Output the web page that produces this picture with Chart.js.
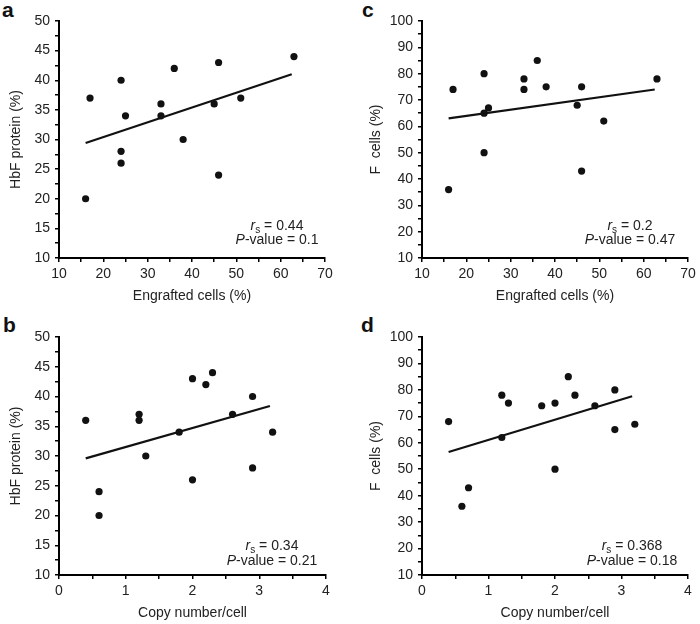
<!DOCTYPE html>
<html>
<head>
<meta charset="utf-8">
<script src="https://cdn.jsdelivr.net/npm/chart.js@4/dist/chart.umd.min.js"></script>
<style>
  html, body { margin: 0; padding: 0; background: #fff; }
  body { width: 700px; height: 624px; position: relative; overflow: hidden; font-family: "Liberation Sans", Arial, sans-serif; }
  .wrap { position: absolute; }
  .letter { position: absolute; font-family: "Liberation Sans", Arial, sans-serif; font-weight: bold; font-size: 21px; color: #111; line-height: 1; }
</style>
</head>
<body>
<div class="letter" style="left:2px; top:-1px;">a</div>
<div class="letter" style="left:362px; top:-1px;">c</div>
<div class="letter" style="left:3px; top:314px;">b</div>
<div class="letter" style="left:361px; top:314px;">d</div>

<div class="wrap" style="left:0px; top:0px; width:345px; height:307px;"><canvas id="ca"></canvas></div>
<div class="wrap" style="left:360px; top:0px; width:340px; height:307px;"><canvas id="cc"></canvas></div>
<div class="wrap" style="left:0px; top:316px; width:345px; height:308px;"><canvas id="cb"></canvas></div>
<div class="wrap" style="left:360px; top:316px; width:340px; height:308px;"><canvas id="cd"></canvas></div>

<script>
// ---- Data ----
// Panel a: HbF protein vs engrafted cells
const engraftedA = [16, 17, 24, 24, 24, 25, 33, 33, 36, 38, 45, 46, 46, 51, 63];
const hbfA       = [20, 37, 40, 28, 26, 34, 36, 34, 42, 30, 36, 43, 24, 37, 44];
const trendAx = [16, 62.5];
const trendAy = [29.4, 41.0];
const statsA = ["0.44", "0.1"];

// Panel c: F cells vs engrafted cells
const engraftedC = [16, 17, 24, 24, 24, 25, 33, 33, 36, 38, 45, 46, 46, 51, 63];
const fcellsC    = [36, 74, 80, 65, 50, 67, 78, 74, 85, 75, 68, 75, 43, 62, 78];
const trendCx = [16, 62.5];
const trendCy = [63.0, 74.0];
const statsC = ["0.2", "0.47"];

// Panel b: HbF protein vs copy number/cell
const copyB = [0.4, 0.6, 0.6, 1.2, 1.2, 1.3, 1.8, 2.0, 2.0, 2.2, 2.3, 2.6, 2.9, 2.9, 3.2];
const hbfB  = [36, 24, 20, 37, 36, 30, 34, 43, 26, 42, 44, 37, 40, 28, 34];
const trendBx = [0.4, 3.16];
const trendBy = [29.6, 38.4];
const statsB = ["0.34", "0.21"];

// Panel d: F cells vs copy number/cell
const copyD   = [0.4, 0.6, 0.7, 1.2, 1.2, 1.3, 1.8, 2.0, 2.0, 2.2, 2.3, 2.6, 2.9, 2.9, 3.2];
const fcellsD = [68, 36, 43, 78, 62, 75, 74, 75, 50, 85, 78, 74, 80, 65, 67];
const trendDx = [0.4, 3.16];
const trendDy = [56.5, 77.6];
const statsD = ["0.368", "0.18"];

// Axis settings (min, max, major step, minor step) and titles
const xEngrafted = [10, 70, 10, 5];
const xCopy = [0, 4, 1, 0.5];
const yHbf = [10, 50, 5, 2.5];
const yFcells = [10, 100, 10, 5];
const titleEngrafted = "Engrafted cells (%)";
const titleCopy = "Copy number/cell";
const titleHbf = "HbF protein (%)";
const titleFcells = "F  cells (%)";

// ---- Rendering ----
const FONT = "'Liberation Sans', Arial, Helvetica, sans-serif";
const TEXT = "#222";

function pts(xs, ys) { return xs.map((x, i) => ({ x: x, y: ys[i] })); }

const statsPlugin = {
  id: 'stats',
  afterDatasetsDraw(chart) {
    const o = chart.options.plugins.stats;
    if (!o) return;
    const ctx = chart.ctx;
    const ca = chart.chartArea;
    const cx = ca.right - o.centerFromRight;
    ctx.save();
    ctx.fillStyle = TEXT;
    ctx.textBaseline = 'middle';
    // line 1: r_s = value
    const fItal = "italic 14px " + FONT;
    const fNorm = "14px " + FONT;
    const fSub = "10px " + FONT;
    ctx.font = fItal; const wr = ctx.measureText("r").width;
    ctx.font = fSub; const ws = ctx.measureText("s").width;
    ctx.font = fNorm; const wrest = ctx.measureText(" = " + o.r).width;
    const total1 = wr + ws + wrest;
    let x = cx - total1 / 2;
    const y1 = ca.bottom - o.line1;
    ctx.textAlign = 'left';
    ctx.font = fItal; ctx.fillText("r", x, y1); x += wr;
    ctx.font = fSub; ctx.fillText("s", x, y1 + 4); x += ws;
    ctx.font = fNorm; ctx.fillText(" = " + o.r, x, y1);
    // line 2: P-value = value
    ctx.font = fItal; const wp = ctx.measureText("P").width;
    ctx.font = fNorm; const wrest2 = ctx.measureText("-value = " + o.p).width;
    const total2 = wp + wrest2;
    x = cx - total2 / 2;
    const y2 = ca.bottom - o.line2;
    ctx.font = fItal; ctx.fillText("P", x, y2); x += wp;
    ctx.font = fNorm; ctx.fillText("-value = " + o.p, x, y2);
    ctx.restore();
  }
};

function axis(cfg, title, isX, fixedSize) {
  const [min, max, major, minor] = cfg;
  return {
    type: 'linear',
    min: min, max: max,
    afterFit(s) { if (isX) s.height = fixedSize; else s.width = fixedSize; },
    border: { display: true, color: '#000', width: 2 },
    grid: { drawOnChartArea: false, drawTicks: true, tickLength: 4, color: '#000', lineWidth: 1.5 },
    ticks: {
      stepSize: minor,
      autoSkip: false,
      maxRotation: 0,
      padding: isX ? 4 : 5,
      color: TEXT,
      font: { family: FONT, size: 14 },
      callback(v) {
        const r = v / major;
        return Math.abs(r - Math.round(r)) < 1e-6 ? String(Math.round(v * 100) / 100) : '';
      }
    },
    title: {
      display: true, text: title, color: TEXT,
      font: { family: FONT, size: 14 },
      padding: isX ? { top: 0, bottom: 2 } : { top: 8, bottom: 0 }
    }
  };
}

function makeChart(id, xs, ys, tx, ty, xCfg, yCfg, xTitle, yTitle, yWidth, padRight, stats, centerFromRight, line1, line2) {
  new Chart(document.getElementById(id), {
    type: 'scatter',
    data: {
      datasets: [
        { data: pts(xs, ys), backgroundColor: '#111', borderColor: '#111', pointRadius: 3.6, pointHoverRadius: 3.6, borderWidth: 0 },
        { data: pts(tx, ty), showLine: true, borderColor: '#111', borderWidth: 2.2, pointRadius: 0, fill: false }
      ]
    },
    options: {
      responsive: true,
      maintainAspectRatio: false,
      animation: false,
      events: [],
      layout: { padding: { top: 21, right: padRight, bottom: 0, left: 0 } },
      plugins: {
        legend: { display: false },
        tooltip: { enabled: false },
        stats: { r: stats[0], p: stats[1], centerFromRight: centerFromRight, line1: line1, line2: line2 }
      },
      scales: {
        x: axis(xCfg, xTitle, true, 49),
        y: axis(yCfg, yTitle, false, yWidth)
      }
    },
    plugins: [statsPlugin]
  });
}

makeChart('ca', engraftedA, hbfA, trendAx, trendAy, xEngrafted, yHbf, titleEngrafted, titleHbf, 59, 20, statsA, 48, 32, 18);
makeChart('cc', engraftedC, fcellsC, trendCx, trendCy, xEngrafted, yFcells, titleEngrafted, titleFcells, 62, 12, statsC, 58, 32, 18);
makeChart('cb', copyB, hbfB, trendBx, trendBy, xCopy, yHbf, titleCopy, titleHbf, 59, 19, statsB, 54, 29, 14);
makeChart('cd', copyD, fcellsD, trendDx, trendDy, xCopy, yFcells, titleCopy, titleFcells, 62, 12, statsD, 56, 29, 14);
</script>
</body>
</html>
